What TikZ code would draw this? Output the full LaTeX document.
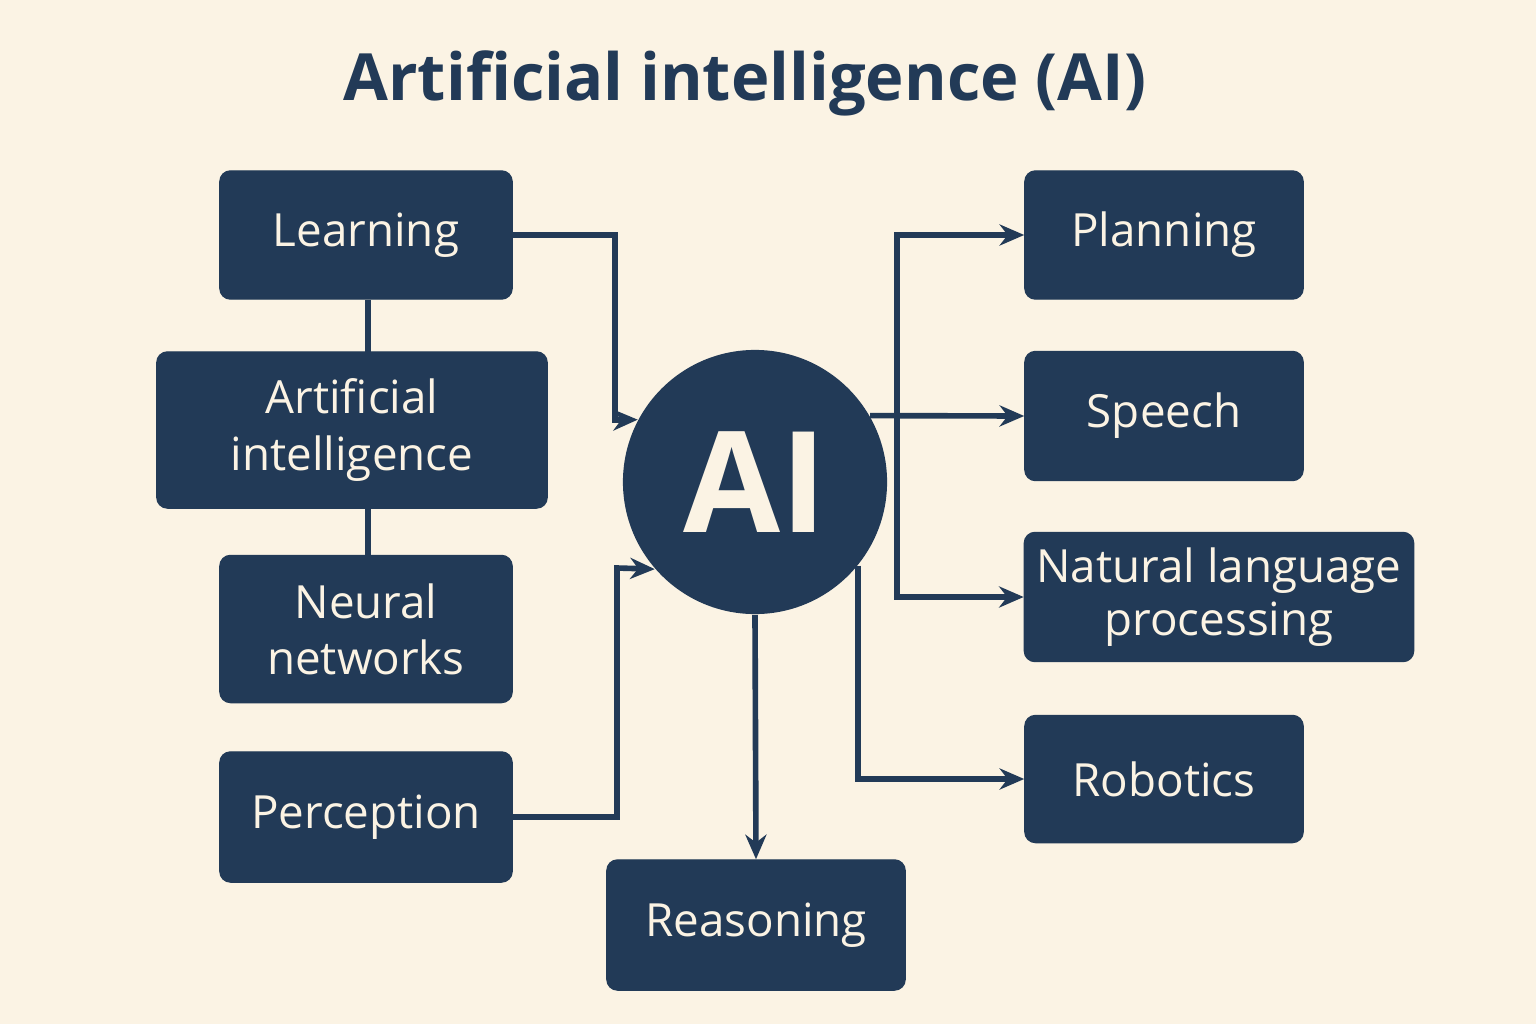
\documentclass[tikz,border=0pt]{standalone}
\usepackage{fontspec}
\setmainfont{Open Sans}
\usepackage{xcolor}
\usetikzlibrary{arrows.meta, positioning}
\definecolor{cream}{HTML}{FBF3E4}
\definecolor{navy}{HTML}{223A57}

\begin{document}
\begin{tikzpicture}[
    x=0.01cm, y=-0.01cm,
    every node/.style={font=\fontsize{13}{16}\selectfont, text=cream, align=center},
    topic/.style={draw=navy, fill=navy, rounded corners=3pt, inner sep=0pt},
    link/.style={draw=navy, line width=1.6pt},
    arr/.style={link, -{Stealth[length=7pt, width=6pt]}},
]
\fill[cream] (0,0) rectangle (1536,1024);
\useasboundingbox (0,0) rectangle (1536,1024);

\node[text=navy, font=\fontsize{18.5}{22}\selectfont\bfseries] (title) at (745,83) {Artificial intelligence (AI)};

\node[circle, fill=navy, minimum size=2.64cm, font=\fontsize{40}{44}\selectfont\bfseries] (ai) at (755,482) {AI};

\node[topic, minimum width=2.92cm, minimum height=1.28cm] (learn) at (366,235) {Learning};
\node[topic, minimum width=3.9cm, minimum height=1.56cm] (artint) at (352,430) {Artificial\\intelligence};
\node[topic, minimum width=2.92cm, minimum height=1.47cm] (neural) at (366,629) {Neural\\networks};
\node[topic, minimum width=2.92cm, minimum height=1.30cm] (percep) at (366,817) {Perception};
\node[topic, minimum width=2.98cm, minimum height=1.30cm] (reason) at (756,925) {Reasoning};

\node[topic, minimum width=2.78cm, minimum height=1.28cm] (plan) at (1164,235) {Planning};
\node[topic, minimum width=2.78cm, minimum height=1.29cm] (speech) at (1164,416) {Speech};
\node[topic, minimum width=3.89cm, minimum height=1.29cm] (nlp) at (1219,597) {Natural language\\[-1pt]processing};
\node[topic, minimum width=2.78cm, minimum height=1.27cm] (robot) at (1164,779) {Robotics};

\coordinate (split) at (897,416);
\coordinate (lbend) at (615,420);
\coordinate (pbend) at (617,568);

% left side
\draw[link] (learn.south) ++(2,0) -- ++(0,53);
\draw[link] (artint.south) ++(16,0) -- ++(0,48);
\draw[arr] (learn.east) -| (lbend) -- (ai.152);
\draw[arr] (percep.east) -| (pbend) -- (ai.221);

% right side
\draw[arr] (ai.30) -- (speech.west);
\draw[arr] (split) |- (plan.west);
\draw[arr] (split) |- (nlp.west);
\draw[arr] (ai.-39) |- (robot.west);
\draw[arr] (ai.south) -- (reason.north);

\end{tikzpicture}
\end{document}
